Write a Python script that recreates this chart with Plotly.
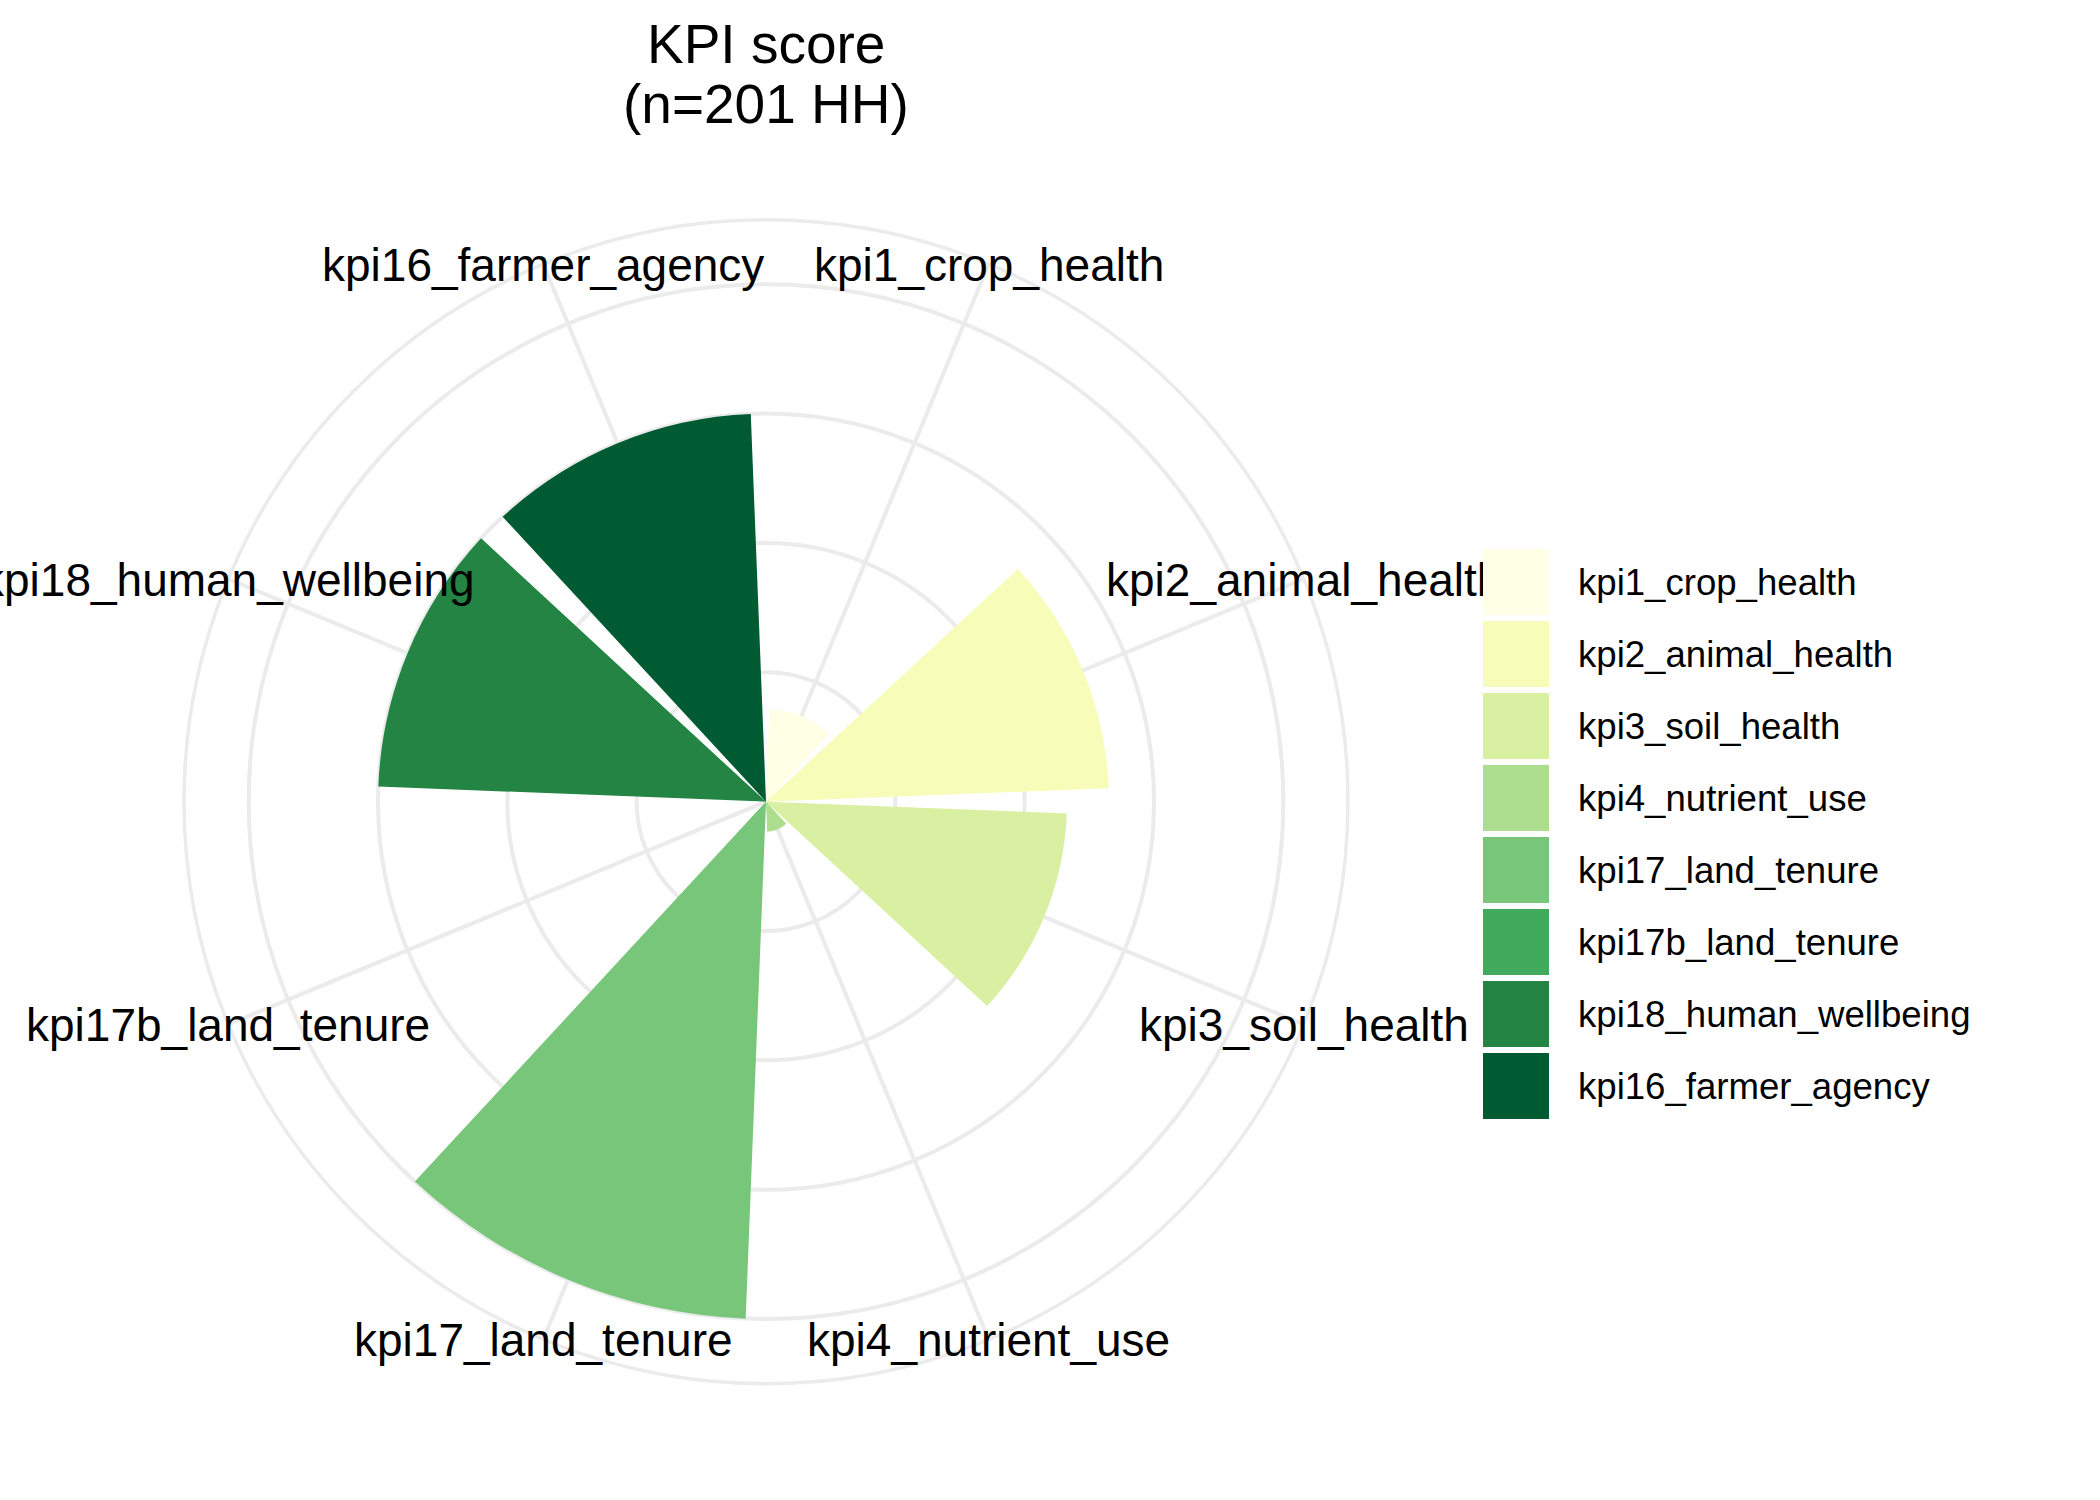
import math
import plotly.graph_objects as go

# ---- data ----
categories = [
    "kpi1_crop_health",
    "kpi2_animal_health",
    "kpi3_soil_health",
    "kpi4_nutrient_use",
    "kpi17_land_tenure",
    "kpi17b_land_tenure",
    "kpi18_human_wellbeing",
    "kpi16_farmer_agency",
]
scores = [17.9, 66.3, 58.2, 5.8, 100.0, 0.0, 75.0, 75.0]
colors = ["#FFFFE5", "#F7FCB9", "#D9F0A3", "#ADDD8E",
          "#78C679", "#41AB5D", "#238443", "#005A32"]
grid_breaks = [25, 50, 75, 100]
title_lines = ["KPI score", "(n=201 HH)"]

# ---- layout constants ----
W, H = 2100, 1500
FONT = "Liberation Sans, Arial, Helvetica, sans-serif"
GRID = "#EBEBEB"
CX, CY, RAD = 766.0, 801.7, 582.0          # polar centre / outer radius in px
R_MAX = max(scores) * 0.45 / 0.4           # ggplot: data max at 0.4, panel edge at 0.45
ROTATION = 90 - 180 / len(categories)      # first category half a sector clockwise of north

fig = go.Figure()

fig.add_trace(go.Barpolar(
    r=scores,
    theta=categories,
    width=[0.9] * len(categories),
    marker=dict(color=colors, line=dict(width=0)),
    showlegend=False,
    hoverinfo="theta+r",
))

annotations = []

# axis (theta) labels centred on the outer circle, like ggplot coord_polar
n = len(categories)
for i, cat in enumerate(categories):
    ang = math.radians((i + 0.5) * 360.0 / n)
    px = CX + RAD * math.sin(ang)
    py = CY - RAD * math.cos(ang)
    annotations.append(dict(
        text=cat, xref="paper", yref="paper",
        x=px / W, y=1 - py / H, yshift=-1,
        xanchor="center", yanchor="middle", showarrow=False,
        font=dict(size=46, color="black", family=FONT),
    ))

# manual legend (square keys, no title); keys drawn after labels so they cover them
KEY_X0, KEY_W = 1483.0, 66.0
KEY_TOP0, KEY_PITCH, KEY_H = 549.3, 72.0, 66.0
for i, (cat, col) in enumerate(zip(categories, colors)):
    top = KEY_TOP0 + KEY_PITCH * i
    annotations.append(dict(
        text=" ", xref="paper", yref="paper",
        x=KEY_X0 / W, y=1 - top / H,
        xanchor="left", yanchor="top", showarrow=False,
        width=KEY_W, height=KEY_H, bgcolor=col,
        borderpad=0, borderwidth=0,
        font=dict(size=10, color=col),
    ))
    annotations.append(dict(
        text=cat, xref="paper", yref="paper",
        x=1576.0 / W, y=1 - (top + KEY_H / 2) / H,
        xanchor="left", yanchor="middle", showarrow=False,
        font=dict(size=36.6, color="black", family=FONT),
    ))

# title (two centred lines)
for txt, yc in zip(title_lines, [43.8, 104.4]):
    annotations.append(dict(
        text=txt, xref="paper", yref="paper",
        x=CX / W, y=1 - yc / H,
        xanchor="center", yanchor="middle", showarrow=False,
        font=dict(size=55, color="black", family=FONT),
    ))

fig.update_layout(
    width=W, height=H, autosize=False,
    margin=dict(l=0, r=0, t=0, b=0),
    paper_bgcolor="white", plot_bgcolor="white",
    font=dict(family=FONT, color="black"),
    showlegend=False,
    polar=dict(
        domain=dict(x=[(CX - RAD) / W, (CX + RAD) / W],
                    y=[1 - (CY + RAD) / H, 1 - (CY - RAD) / H]),
        bgcolor="white",
        radialaxis=dict(
            range=[0, R_MAX], tickvals=grid_breaks, showticklabels=False,
            ticks="", showline=False, gridcolor=GRID, gridwidth=3.5,
            layer="below traces",
        ),
        angularaxis=dict(
            type="category", categoryorder="array", categoryarray=categories,
            rotation=ROTATION, direction="clockwise",
            showticklabels=False, ticks="",
            showline=True, linecolor=GRID, linewidth=3.5,
            showgrid=True, gridcolor=GRID, gridwidth=3.5,
            layer="below traces",
        ),
    ),
    annotations=annotations,
)

fig.write_html("out.html")
